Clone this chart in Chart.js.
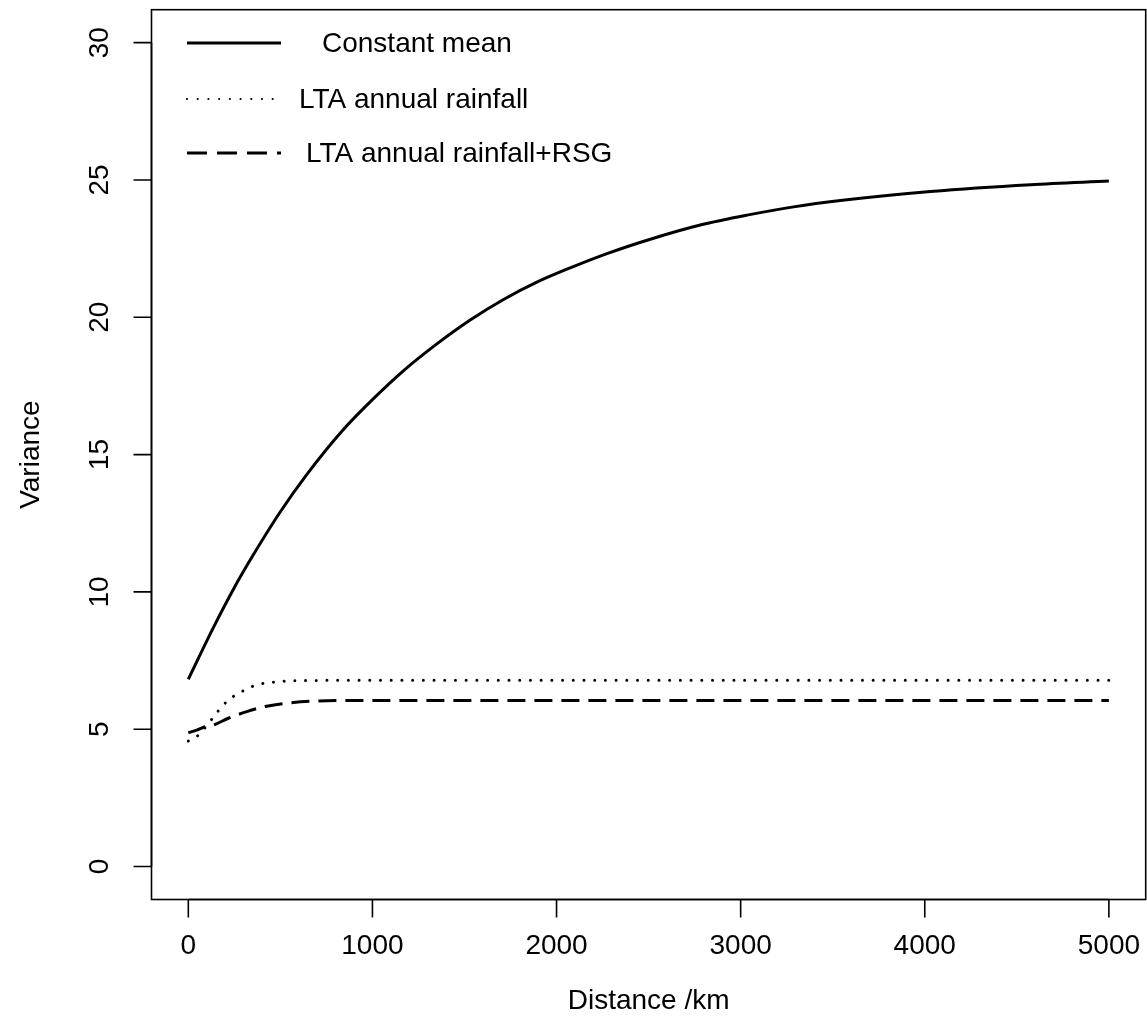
<!DOCTYPE html>
<html>
<head>
<meta charset="utf-8">
<title>Variance by distance</title>
<script src="https://cdn.jsdelivr.net/npm/chart.js@4.4.1/dist/chart.umd.min.js"></script>
<style>
  html, body { margin: 0; padding: 0; background: #fff; }
  canvas { display: block; }
</style>
</head>
<body>
<canvas id="varianceChart" width="1147" height="1034"></canvas>
<script>
// Constant mean model
const constDist = [0, 136, 245, 353, 498, 643, 834, 1000, 1168, 1350, 1531, 1712, 1893, 2074,
  2274, 2527, 2781, 3035, 3288, 3542, 4031, 4574, 5000];
const constVar = [6.82, 8.7, 10.1, 11.35, 12.9, 14.27, 15.85, 17.0, 18.05, 19.03, 19.9, 20.65, 21.28, 21.8,
  22.32, 22.88, 23.36, 23.72, 24.02, 24.25, 24.58, 24.83, 24.96];

// LTA annual rainfall model
const ltaDist = [0, 49, 127, 163, 203, 248, 299, 353, 411, 470, 527, 589, 800, 1500, 3000, 5000];
const ltaVar = [4.57, 4.75, 5.36, 5.67, 5.97, 6.21, 6.4, 6.57, 6.67, 6.72, 6.75, 6.77, 6.78, 6.78, 6.78, 6.78];

// LTA annual rainfall + RSG model
const rsgDist = [0, 46, 91, 136, 217, 317, 426, 553, 698, 915, 1500, 3000, 5000];
const rsgVar = [4.87, 4.97, 5.09, 5.15, 5.4, 5.64, 5.84, 5.96, 6.03, 6.05, 6.05, 6.05, 6.05];

const xTicks = [0, 1000, 2000, 3000, 4000, 5000];
const yTicks = [0, 5, 10, 15, 20, 25, 30];

const legendLabels = ['Constant mean', 'LTA annual rainfall', 'LTA annual rainfall+RSG'];

const FONT = '28px "Liberation Sans", Arial, sans-serif';

const toPoints = (xs, ys) => xs.map((x, i) => ({ x: x, y: ys[i] }));

// R-style box, axes, titles and legend drawn on top of the plot
const baseGraphics = {
  id: 'baseGraphics',
  afterDraw(chart) {
    const ctx = chart.ctx;
    const area = chart.chartArea;
    const xs = chart.scales.x;
    const ys = chart.scales.y;
    ctx.save();
    ctx.strokeStyle = '#000';
    ctx.fillStyle = '#000';
    ctx.lineWidth = 1.6;
    ctx.setLineDash([]);
    ctx.strokeRect(area.left, area.top, area.right - area.left, area.bottom - area.top);

    // x axis
    ctx.font = FONT;
    ctx.textAlign = 'center';
    ctx.textBaseline = 'middle';
    ctx.beginPath();
    ctx.moveTo(xs.getPixelForValue(xTicks[0]), area.bottom);
    ctx.lineTo(xs.getPixelForValue(xTicks[xTicks.length - 1]), area.bottom);
    xTicks.forEach(t => {
      const px = xs.getPixelForValue(t);
      ctx.moveTo(px, area.bottom);
      ctx.lineTo(px, area.bottom + 18);
    });
    ctx.stroke();
    xTicks.forEach(t => ctx.fillText(String(t), xs.getPixelForValue(t), 946));

    // y axis
    ctx.beginPath();
    ctx.moveTo(area.left, ys.getPixelForValue(yTicks[0]));
    ctx.lineTo(area.left, ys.getPixelForValue(yTicks[yTicks.length - 1]));
    yTicks.forEach(t => {
      const py = ys.getPixelForValue(t);
      ctx.moveTo(area.left, py);
      ctx.lineTo(area.left - 18, py);
    });
    ctx.stroke();
    yTicks.forEach(t => {
      ctx.save();
      ctx.translate(100, ys.getPixelForValue(t));
      ctx.rotate(-Math.PI / 2);
      ctx.fillText(String(t), 0, 0);
      ctx.restore();
    });

    // axis titles
    ctx.fillText('Distance /km', (area.left + area.right) / 2, 1001);
    ctx.save();
    ctx.translate(31, (area.top + area.bottom) / 2);
    ctx.rotate(-Math.PI / 2);
    ctx.fillText('Variance', 0, 0);
    ctx.restore();

    // legend
    const rows = [
      { y: 43, dash: [], width: 3, cap: 'butt', textX: 322 },
      { y: 99, dash: [0.01, 10.7], width: 2.2, cap: 'round', textX: 299 },
      { y: 153, dash: [20, 10], width: 3, cap: 'butt', textX: 306 }
    ];
    ctx.textAlign = 'left';
    rows.forEach((r, i) => {
      ctx.lineWidth = r.width;
      ctx.lineCap = r.cap;
      ctx.setLineDash(r.dash);
      ctx.beginPath();
      ctx.moveTo(187, r.y);
      ctx.lineTo(281, r.y);
      ctx.stroke();
      ctx.setLineDash([]);
      ctx.fillText(legendLabels[i], r.textX, r.y + 1);
    });
    ctx.restore();
  }
};

new Chart(document.getElementById('varianceChart').getContext('2d'), {
  type: 'line',
  data: {
    datasets: [
      {
        label: legendLabels[0],
        data: toPoints(constDist, constVar),
        borderColor: '#000',
        borderWidth: 3,
        cubicInterpolationMode: 'monotone',
        pointRadius: 0
      },
      {
        label: legendLabels[1],
        data: toPoints(ltaDist, ltaVar),
        borderColor: '#000',
        borderWidth: 3,
        borderDash: [0.01, 10.7],
        borderCapStyle: 'round',
        cubicInterpolationMode: 'monotone',
        pointRadius: 0
      },
      {
        label: legendLabels[2],
        data: toPoints(rsgDist, rsgVar),
        borderColor: '#000',
        borderWidth: 3,
        borderDash: [18, 9],
        borderCapStyle: 'butt',
        cubicInterpolationMode: 'monotone',
        pointRadius: 0
      }
    ]
  },
  options: {
    responsive: false,
    animation: false,
    layout: { padding: { left: 151.5, right: 1.3, top: 9.7, bottom: 134.5 } },
    plugins: {
      legend: { display: false },
      tooltip: { enabled: false }
    },
    scales: {
      x: { type: 'linear', min: -200, max: 5200, display: false },
      y: { type: 'linear', min: -1.2, max: 31.2, display: false }
    }
  },
  plugins: [baseGraphics]
});
</script>
</body>
</html>
